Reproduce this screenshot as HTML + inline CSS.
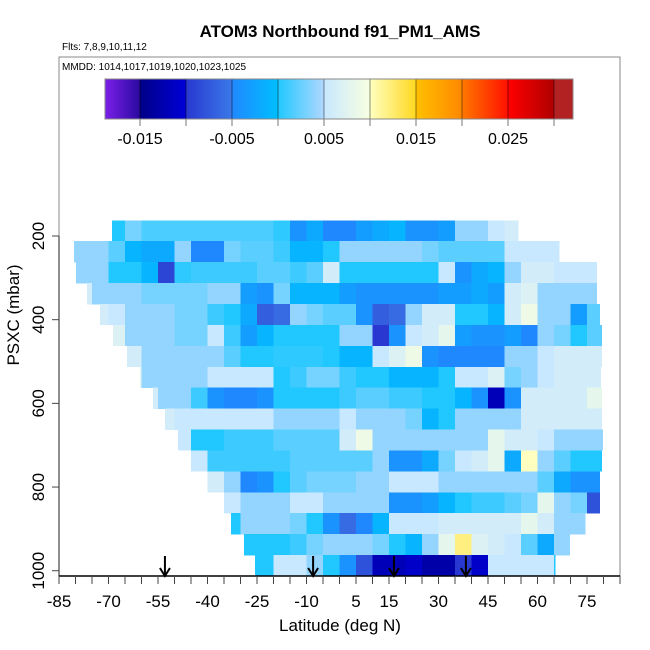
<!DOCTYPE html>
<html><head><meta charset="utf-8"><style>
html,body{margin:0;padding:0;background:#fff;}
svg{display:block;font-family:"Liberation Sans",Arial,sans-serif;}
</style></head><body>
<svg id="chart" width="650" height="650" viewBox="0 0 650 650" xmlns="http://www.w3.org/2000/svg">
<rect width="650" height="650" fill="#fff"/>
<text x="340" y="37" font-size="17" font-weight="bold" text-anchor="middle">ATOM3 Northbound f91_PM1_AMS</text>
<text x="62" y="50" font-size="10">Flts: 7,8,9,10,11,12</text>
<text x="62" y="70" font-size="10">MMDD: 1014,1017,1019,1020,1023,1025</text>
<g id="cells" shape-rendering="crispEdges"></g>
<g id="cbar" shape-rendering="crispEdges"></g>
<g id="axes"></g>
<text x="340" y="631" font-size="17" text-anchor="middle">Latitude (deg N)</text>
<text x="0" y="0" font-size="17" text-anchor="middle" transform="translate(19,315) rotate(-90)">PSXC (mbar)</text>
</svg>
<script>
// ---- data ----
const pressureEdges = [162.5,212.5,262.5,312.5,362.5,412.5,462.5,512.5,562.5,612.5,662.5,712.5,762.5,812.5,862.5,912.5,962.5,1012.5];
const bandGridStart = [-70,-85,-85,-80,-75,-70,-65,-65,-60,-55,-50,-45,-40,-35,-35,-30,-30];
const bandLatMin = [-68.9,-80.5,-79.8,-76.5,-72.6,-68.6,-64.4,-60.5,-56.5,-52.9,-48.9,-45,-41.1,-37.1,-32.9,-28.9,-25.6];
const bandLatMax = [54.1,66.5,78,78,78.9,79.5,79.5,79.2,79.5,79.5,79.8,79.5,78.9,78.9,74.4,69.8,65.3];
const band0 = [0,0.003,0.0015,0.0015,0.0015,0.0015,0.0015,0.0015,0.0015,0.0015,0.0005,-0.004,-0.002,-0.005,-0.005,-0.003,-0.002,-0.001,-0.004,-0.004,-0.003,0.004,0.004,0.005,0.006];
const band1 = [0.004,0.004,0.004,0.002,-0.001,-0.002,-0.002,0.004,-0.005,-0.005,0.003,0.002,0.002,0.001,-0.001,-0.001,0.0,0.004,0.004,0.004,0.004,0.004,0.003,0.002,0.002,0.002,0.002,0.005,0.005,0.005,0.005];
const band2 = [0.004,0.004,0.004,0.0,0.0,-0.001,-0.009,0.0005,0.001,0.001,0.001,0.001,0.002,0.002,0.001,0.002,0.006,0.0,0.0,0.0,0.0,0.0,0.0,0.005,-0.004,-0.002,-0.001,0.004,0.006,0.006,0.005,0.005,0.005];
const band3 = [0.006,0.004,0.004,0.004,0.003,0.003,0.003,0.003,0.004,0.004,-0.003,-0.004,0.003,-0.001,-0.001,-0.001,-0.003,-0.004,-0.004,-0.004,-0.004,-0.004,-0.003,-0.003,-0.002,-0.003,0.006,0.007,0.004,0.004,0.004,0.004];
const band4 = [0.006,0.005,0.004,0.004,0.004,0.003,0.003,0.001,0.0,-0.002,-0.007,-0.006,0.004,0.003,0.002,0.002,-0.004,-0.007,-0.006,0.004,0.006,0.006,0.0,0.0,-0.001,0.006,0.009,0.004,0.004,-0.003,0.002];
const band5 = [0.007,0.004,0.004,0.004,0.003,0.003,0.005,0.001,-0.003,-0.001,0.0,0.0,0.0,0.0,0.004,0.004,-0.01,-0.004,0.005,0.006,0.008,-0.003,-0.004,-0.004,-0.003,-0.005,0.004,0.003,0.0,0.002];
const band6 = [0.006,0.004,0.004,0.004,0.004,0.004,0.002,0.0,0.0,0.0005,0.0005,0.0005,0.0,-0.001,-0.001,0.005,0.007,0.009,-0.004,-0.005,-0.005,-0.005,-0.005,0.004,0.004,0.005,0.006,0.006,0.006];
const band7 = [0.008,0.004,0.004,0.004,0.004,0.005,0.005,0.005,0.005,0.0,0.001,0.003,0.003,0.001,0.0,0.0,-0.001,-0.001,-0.001,0.0,0.005,0.005,0.007,0.003,0.004,0.005,0.006,0.006,0.006];
const band8 = [0.006,0.004,0.004,0.001,-0.004,-0.005,-0.005,-0.004,0.0,0.0,0.0,0.0,0.001,0.002,0.002,0.001,0.001,0.0,0.0,-0.001,-0.004,-0.012,-0.004,0.006,0.006,0.006,0.006,0.008];
const band9 = [0.006,0.005,0.005,0.005,0.005,0.005,0.005,0.004,0.004,0.004,0.004,0.005,0.004,0.004,0.004,0.003,-0.001,0.0,0.004,0.004,0.004,0.004,0.006,0.006,0.006,0.006,0.006];
const band10 = [0.005,0.0,0.0,0.001,0.001,0.001,0.002,0.002,0.002,0.002,0.006,0.009,0.004,0.004,0.004,0.004,0.004,0.004,0.004,0.008,0.006,0.006,0.005,0.004,0.004,0.004];
const band11 = [0.005,0.001,0.001,0.001,0.001,0.001,0.002,0.002,0.002,0.002,0.002,0.004,-0.004,-0.004,-0.002,0.003,0.005,0.006,0.008,-0.002,0.01,0.004,0.002,0.0,0.0];
const band12 = [0.006,0.004,-0.005,-0.004,0.0,0.002,0.003,0.003,0.003,0.004,0.004,0.005,0.005,0.005,0.004,0.004,0.004,0.004,0.004,0.004,0.002,-0.002,-0.004,-0.004];
const band13 = [0.005,0.004,0.004,0.004,0.005,0.005,0.004,0.004,0.004,0.004,-0.004,-0.004,-0.003,-0.001,0.0,0.001,0.001,0.002,0.003,0.008,0.004,0.003,-0.008];
const band14 = [0.0,0.004,0.004,0.004,0.003,0.0,-0.004,-0.006,-0.005,-0.001,0.005,0.005,0.005,0.006,0.006,0.006,0.006,0.006,0.008,0.006,0.004,0.004];
const band15 = [0.0,0.0,0.0,0.001,0.003,0.004,0.004,0.004,0.003,0.0,-0.001,0.004,0.008,0.012,0.007,0.006,0.005,0.002,-0.002,0.004];
const band16 = [0.0,0.0,0.005,0.005,0.004,0.0,-0.004,-0.008,-0.012,-0.012,-0.011,-0.013,-0.013,-0.01,-0.011,0.005,0.005,0.005,0.005,0.0];
const bands = [band0,band1,band2,band3,band4,band5,band6,band7,band8,band9,band10,band11,band12,band13,band14,band15,band16];
const xTickLabels = [-85,-70,-55,-40,-25,-10,5,15,30,45,60,75];
const yTickLabels = [200,400,600,800,1000];
const cbarTickLabels = [-0.015,-0.005,0.005,0.015,0.025];
const cbarBreaks = [-0.015,-0.01,-0.005,0,0.005,0.01,0.015,0.02,0.025,0.03];
const arrowLats = [-52.9,-8.0,16.5,38.3];

// ---- scales ----
const NS='http://www.w3.org/2000/svg';
const xS = lat => 59 + (lat + 85) * 3.3;
const yS = p => 236 + (p - 200) * 0.4184;
const cS = v => 278 + v * 9200;
const bins = [
 [-1,-0.015,'#7b1fe8','#2a0aa0'],[-0.015,-0.01,'#000088','#0000d8'],[-0.01,-0.005,'#2838d0','#3a78e8'],
 [-0.005,0,'#2088ff','#00bfff'],[0,0.005,'#20c8ff','#b0d8ff'],[0.005,0.01,'#c8e8ff','#f8ffe0'],
 [0.01,0.015,'#ffffc0','#ffd820'],[0.015,0.02,'#ffc000','#ff8800'],[0.02,0.025,'#ff7800','#ff1000'],
 [0.025,0.03,'#ff0000','#b00000'],[0.03,1,'#b22222','#b22222']];
function hx(c){return [parseInt(c.slice(1,3),16),parseInt(c.slice(3,5),16),parseInt(c.slice(5,7),16)];}
function cmap(v){
  for(const b of bins){ if(v>=b[0] && v<b[1]){
    let lo=b[0]<-0.5?-0.0188:b[0], hi=b[1]>0.5?0.032:b[1];
    let t=Math.max(0,Math.min(1,(v-lo)/(hi-lo)));
    const a=hx(b[2]),c=hx(b[3]);
    return 'rgb('+a.map((q,i)=>Math.round(q+(c[i]-q)*t)).join(',')+')';}}
  return '#b22222';
}
function mk(tag,attrs,parent){const e=document.createElementNS(NS,tag);for(const k in attrs)e.setAttribute(k,attrs[k]);parent.appendChild(e);return e;}

// ---- heatmap ----
const cells=document.getElementById('cells');
bands.forEach((vals,k)=>{
  const y0=yS(pressureEdges[k]), y1=yS(pressureEdges[k+1]);
  vals.forEach((v,j)=>{
    let l0=Math.max(bandGridStart[k]+5*j,bandLatMin[k]);
    let l1=Math.min(bandGridStart[k]+5*j+5,bandLatMax[k]);
    if(l1<=l0) return;
    const r=mk('rect',{x:xS(l0),y:y0,width:xS(l1)-xS(l0)+0.3,height:y1-y0+0.3,fill:cmap(v)},cells);
    
    
  });
});

// ---- colorbar ----
const cb=document.getElementById('cbar');
for(let x=105;x<573;x++){
  const v=(x+0.5-278)/9200;
  mk('rect',{x:x,y:79,width:1.2,height:40,fill:cmap(v)},cb);
}
cbarBreaks.forEach(v=>{
  mk('line',{x1:cS(v),x2:cS(v),y1:79,y2:119,stroke:'rgba(0,0,0,0.45)','stroke-width':1},cb);
  const t=mk('line',{x1:cS(v),x2:cS(v),y1:119,y2:126,stroke:'#777','stroke-width':1},cb);
  
  
});
mk('rect',{x:105,y:79,width:468,height:40,fill:'none',stroke:'#888','stroke-width':1},cb);
cbarTickLabels.forEach(v=>{
  const t=mk('text',{x:cS(v),y:144,'font-size':16,'text-anchor':'middle'},cb);
  t.textContent=String(v);
  
  
});

// ---- axes ----
const ax=document.getElementById('axes');
mk('rect',{x:59,y:57,width:561,height:519,fill:'none',stroke:'#888','stroke-width':1},ax);
mk('line',{x1:59,x2:59,y1:236,y2:576,stroke:'#444','stroke-width':1.2},ax);
mk('line',{x1:59,x2:620,y1:576,y2:576,stroke:'#000','stroke-width':1.5},ax);
for(let lat=-85;lat<=85;lat+=5){
  const t=mk('line',{x1:xS(lat),x2:xS(lat),y1:576,y2:584,stroke:'#444','stroke-width':1},ax);
  
  
}
xTickLabels.forEach(lat=>{
  const t=mk('text',{x:xS(lat),y:607,'font-size':17,'text-anchor':'middle'},ax);
  t.textContent=String(lat);
  
  
});
yTickLabels.forEach(p=>{
  mk('line',{x1:52,x2:59,y1:yS(p),y2:yS(p),stroke:'#444','stroke-width':1},ax);
  const t=mk('text',{x:0,y:0,'font-size':17,'text-anchor':'middle',transform:'translate(44,'+yS(p)+') rotate(-90)'},ax);
  t.textContent=String(p);
  
  
});
arrowLats.forEach(lat=>{
  const x=xS(lat);
  const g=mk('g',{},ax);
  
  
  mk('line',{x1:x,x2:x,y1:556,y2:576,stroke:'#000','stroke-width':2},g);
  mk('polyline',{points:(x-5)+',568 '+x+',576 '+(x+5)+',568',fill:'none',stroke:'#000','stroke-width':2},g);
});
</script>
</body></html>
